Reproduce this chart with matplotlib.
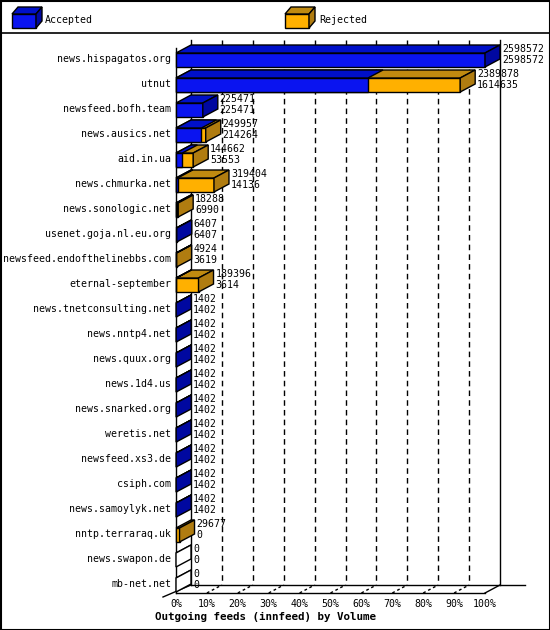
import matplotlib.pyplot as plt
from matplotlib.patches import Polygon, Rectangle

hosts = ['news.hispagatos.org', 'utnut', 'newsfeed.bofh.team', 'news.ausics.net',
         'aid.in.ua', 'news.chmurka.net', 'news.sonologic.net', 'usenet.goja.nl.eu.org',
         'newsfeed.endofthelinebbs.com', 'eternal-september', 'news.tnetconsulting.net',
         'news.nntp4.net', 'news.quux.org', 'news.1d4.us', 'news.snarked.org',
         'weretis.net', 'newsfeed.xs3.de', 'csiph.com', 'news.samoylyk.net',
         'nntp.terraraq.uk', 'news.swapon.de', 'mb-net.net']
offered = [2598572, 2389878, 225471, 249957, 144662, 319404, 18288, 6407, 4924, 189396,
           1402, 1402, 1402, 1402, 1402, 1402, 1402, 1402, 1402, 29677, 0, 0]
accepted = [2598572, 1614635, 225471, 214264, 53553, 14136, 6990, 6407, 3619, 3614,
            1402, 1402, 1402, 1402, 1402, 1402, 1402, 1402, 1402, 0, 0, 0]
ticks = ['0%', '10%', '20%', '30%', '40%', '50%', '60%', '70%', '80%', '90%', '100%']

BLUE, BLUE_TOP, BLUE_SIDE = '#0a14f0', '#0010c8', '#0008a0'
ORANGE, ORANGE_TOP, ORANGE_SIDE = '#ffb000', '#c08a10', '#b07c10'
font = 'DejaVu Sans Mono'
FS = 7.1

fig = plt.figure(figsize=(5.5, 6.3), dpi=100)
ax = fig.add_axes([0, 0, 1, 1])
ax.set_xlim(0, 550)
ax.set_ylim(630, 0)
ax.axis('off')

X0, W, DX, DY, H = 176, 309, 15, 8, 7
vmax = max(offered)


def box(x0, x1, yc, front, top, side, with_side=True, z=3):
    if front is not None:
        ax.add_patch(Rectangle((x0, yc - H + 1), x1 - x0, 2 * H, fc=front, ec='black', lw=1, zorder=z))
    t = yc - H + 1
    ax.add_patch(Polygon([(x0, t), (x1, t), (x1 + DX, t - DY), (x0 + DX, t - DY)],
                         fc=top, ec='black', lw=1, zorder=z))
    if with_side:
        ax.add_patch(Polygon([(x1, t), (x1 + DX, t - DY), (x1 + DX, t + 2 * H - DY), (x1, t + 2 * H)],
                             fc=side, ec='black', lw=1, zorder=z))


# frame and legend
ax.add_patch(Rectangle((0.5, 0.5), 549, 629, fc='none', ec='black', lw=1.5))
ax.plot([0, 550], [33, 33], color='black', lw=1.2)
ax.add_patch(Rectangle((12, 14), 24, 14, fc=BLUE, ec='black', lw=1))
ax.add_patch(Polygon([(12, 14), (36, 14), (42, 7), (18, 7)], fc=BLUE_TOP, ec='black', lw=1))
ax.add_patch(Polygon([(36, 14), (42, 7), (42, 21), (36, 28)], fc=BLUE_SIDE, ec='black', lw=1))
ax.text(45, 20, 'Accepted', family=font, fontsize=FS, va='center')
ax.add_patch(Rectangle((285, 14), 24, 14, fc=ORANGE, ec='black', lw=1))
ax.add_patch(Polygon([(285, 14), (309, 14), (315, 7), (291, 7)], fc=ORANGE_TOP, ec='black', lw=1))
ax.add_patch(Polygon([(309, 14), (315, 7), (315, 21), (309, 28)], fc=ORANGE_SIDE, ec='black', lw=1))
ax.text(319, 20, 'Rejected', family=font, fontsize=FS, va='center')

# walls and grid
ax.plot([X0 + DX, X0 + DX], [40, 585], color='black', lw=1)
ax.plot([X0 + W + DX, X0 + W + DX], [40, 585], color='black', lw=1)
ax.plot([X0, X0], [48, 593], color='black', lw=1)
ax.plot([X0 + DX, 525], [585, 585], color='black', lw=1)
ax.plot([X0, X0 + W], [593, 593], color='black', lw=1)
ax.plot([163, X0 + DX], [597, 585], color='black', lw=1)
ax.plot([X0 + W, X0 + W + DX], [593, 585], color='black', lw=1)
for k in range(1, 10):
    gx = X0 + DX + W * k / 10
    ax.plot([gx, gx], [40, 585], color='black', lw=1, ls=(0, (4, 3)))
    fx = X0 + W * k / 10
    ax.plot([fx, fx + DX], [593, 585], color='black', lw=1, ls=(0, (2, 2)))
for k, t in enumerate(ticks):
    ax.text(X0 + W * k / 10, 604, t, family=font, fontsize=FS, ha='center', va='center')
ax.text(155, 617, 'Outgoing feeds (innfeed) by Volume', family=font, fontsize=7.8,
        fontweight='bold', va='center')

# bars
for i, h in enumerate(hosts):
    yc = 59 + 25 * i
    ax.text(171, yc, h, family=font, fontsize=FS, ha='right', va='center')
    xo = X0 + W * offered[i] / vmax
    xa = X0 + W * accepted[i] / vmax
    if offered[i] == 0:
        box(X0, X0, yc, None, 'white', 'white')
    elif accepted[i] < offered[i]:
        box(X0, xo, yc, ORANGE, ORANGE_TOP, ORANGE_SIDE)
        if accepted[i] > 0:
            box(X0, xa, yc, BLUE, BLUE_TOP, BLUE_SIDE, with_side=False, z=4)
    else:
        box(X0, xa, yc, BLUE, BLUE_TOP, BLUE_SIDE)
    ax.text(xo + DX + 2, yc - 10, str(offered[i]), family=font, fontsize=FS, va='center')
    ax.text(xo + DX + 2, yc + 1, str(accepted[i]), family=font, fontsize=FS, va='center')

fig.savefig('out.png', dpi=100)
